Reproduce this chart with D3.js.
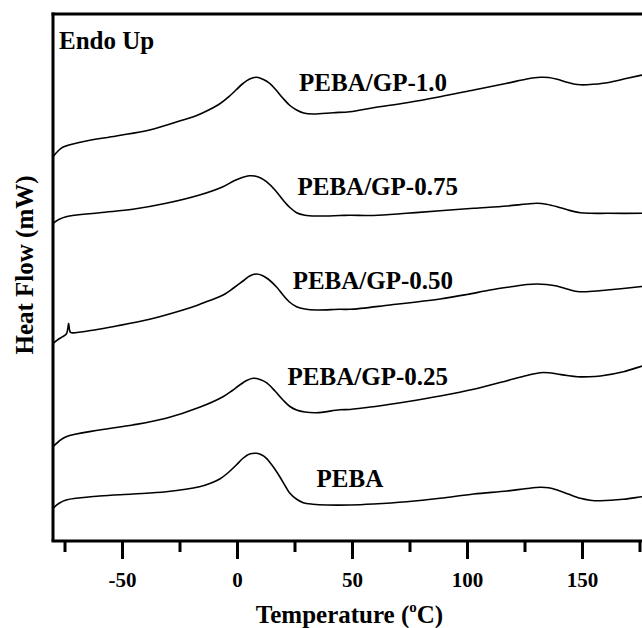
<!DOCTYPE html>
<html>
<head>
<meta charset="utf-8">
<script src="https://cdn.jsdelivr.net/npm/d3@7/dist/d3.min.js"></script>
<style>
  html, body { margin: 0; padding: 0; background: #fff; }
  svg { display: block; }
  text { font-family: "Liberation Serif", "Times New Roman", serif; font-weight: bold; fill: #000; }
</style>
</head>
<body>
<svg id="chart" width="642" height="628"></svg>
<script>
// DSC heating scans, [temperature (°C), heat flow (mW, stacked offsets)]
const gp100 = [
  [-80, 38.43], [-78, 38.95], [-75.8, 39.37], [-67.1, 39.93], [-52.5, 40.50], [-38, 41.10],
  [-23.5, 42.10], [-17.5, 42.55], [-11.9, 43.15], [-7, 43.80], [-3.2, 44.50], [2.6, 45.75],
  [5.5, 46.20], [8.5, 46.37], [11.5, 46.15], [14.2, 45.77], [17, 45.10], [20, 44.27],
  [23, 43.55], [25.9, 43.10], [29, 42.80], [33.1, 42.70], [41.8, 42.83], [49.1, 42.93],
  [59.3, 43.33], [73.8, 43.83], [88.3, 44.43], [102.9, 45.10], [117.4, 45.77], [126, 46.20],
  [131.9, 46.37], [135.5, 46.35], [139.2, 46.17], [143, 45.90], [146.4, 45.70], [149.5, 45.62],
  [152.2, 45.63], [161, 45.83], [169.7, 46.27], [176.2, 46.60], [182, 46.90]
];
const gp075 = [
  [-80, 31.77], [-77.5, 32.15], [-74.3, 32.43], [-59.8, 32.83], [-45.3, 33.17], [-30.8, 33.77],
  [-16.3, 34.60], [-6.1, 35.43], [-1, 36.05], [2.6, 36.37], [5.3, 36.52], [7.7, 36.50],
  [10.3, 36.30], [12.8, 35.93], [16.5, 35.10], [20, 34.10], [23, 33.35], [25.9, 32.83],
  [29.5, 32.58], [34.6, 32.50], [44.7, 32.55], [49.1, 32.58], [59.3, 32.55], [73.8, 32.77],
  [88.3, 33.03], [102.9, 33.27], [117.4, 33.50], [126, 33.70], [130.5, 33.77], [134.5, 33.68],
  [139.2, 33.43], [144, 33.10], [149.3, 32.83], [154, 32.77], [161, 32.77], [176.2, 32.77],
  [182, 32.80]
];
const gp050 = [
  [-80, 19.77], [-77.8, 20.15], [-75.8, 20.43], [-74.2, 20.70], [-73.6, 21.20], [-73.2, 21.77],
  [-72.8, 21.10], [-72.3, 20.85], [-67.1, 20.93], [-52.5, 21.50], [-38, 22.17], [-23.5, 23.10],
  [-17.5, 23.55], [-11.9, 24.05], [-6, 24.60], [-1.5, 25.30], [2.6, 26.00], [5.5, 26.50],
  [8.5, 26.70], [11, 26.55], [13.5, 26.20], [17.2, 25.40], [20, 24.60], [22.8, 23.90],
  [25.9, 23.43], [29.5, 23.20], [34.6, 23.10], [44.7, 23.17], [49.1, 23.17], [66.5, 23.60],
  [88.3, 24.20], [100, 24.65], [110, 25.10], [120, 25.45], [126, 25.65], [130.5, 25.70],
  [134.5, 25.65], [139, 25.50], [143.5, 25.20], [147.9, 24.95], [152, 24.93], [161, 25.10],
  [176, 25.45], [182, 25.60]
];
const gp025 = [
  [-80, 9.43], [-77.5, 9.95], [-74.3, 10.43], [-59.8, 11.10], [-45.3, 11.60], [-30.8, 12.27],
  [-16.3, 13.37], [-6.1, 14.43], [-2, 15.05], [1.2, 15.60], [4.2, 16.05], [7, 16.27],
  [10, 16.15], [12.8, 15.83], [16.5, 15.00], [20, 14.10], [23, 13.45], [25.9, 13.10],
  [29.5, 12.90], [34.6, 12.83], [44.7, 13.12], [49.1, 13.15], [59.3, 13.43], [73.8, 13.93],
  [88.3, 14.50], [102.9, 15.17], [117.4, 16.03], [126, 16.55], [131.9, 16.83], [135.5, 16.82],
  [139.2, 16.70], [143.5, 16.55], [148, 16.43], [153, 16.42], [158, 16.50], [168, 16.93],
  [176.2, 17.50], [182, 17.90]
];
const peba = [
  [-80, 3.27], [-77.5, 3.75], [-74.3, 4.10], [-59.8, 4.50], [-45.3, 4.70], [-30.8, 4.93],
  [-16.3, 5.43], [-11.5, 5.78], [-7.5, 6.20], [-4, 6.80], [-0.3, 7.60], [2.5, 8.25],
  [5.5, 8.70], [8.5, 8.77], [10.8, 8.60], [12.8, 8.27], [15.5, 7.50], [18.6, 6.43],
  [21, 5.50], [23, 4.77], [25.8, 4.20], [28.8, 3.83], [33, 3.68], [39, 3.60], [49.1, 3.60],
  [59.3, 3.70], [73.8, 3.93], [88.3, 4.27], [102.9, 4.70], [117.4, 5.00], [126, 5.25],
  [131.9, 5.37], [135.5, 5.32], [139.2, 5.10], [144, 4.70], [149.3, 4.27], [153.5, 4.08],
  [158, 4.03], [168, 4.17], [176.2, 4.43], [182, 4.60]
];

const seriesNames = ["PEBA/GP-1.0", "PEBA/GP-0.75", "PEBA/GP-0.50", "PEBA/GP-0.25", "PEBA"];
const seriesData = [gp100, gp075, gp050, gp025, peba];
// label anchor per curve: [temperature, heat flow] at the left end of the baseline
const labelAnchors = [[27, 45.05], [26.3, 34.6], [24.2, 25.2], [22, 15.6], [34.6, 5.4]];

const majorTicks = [-50, 0, 50, 100, 150];
const minorTicks = [-75, -25, 25, 75, 125, 175];

const svg = d3.select("#chart");
const plotLeft = 53, plotTop = 14, plotBottom = 541, svgWidth = 642;

const x = d3.scaleLinear().domain([-80, 200]).range([plotLeft, plotLeft + 280 * 2.3]);
const y = d3.scaleLinear().domain([0, 52.7]).range([plotBottom, plotTop]);

svg.append("defs").append("clipPath").attr("id", "plot-clip")
  .append("rect").attr("x", plotLeft).attr("y", plotTop)
  .attr("width", 700).attr("height", plotBottom - plotTop);

const line = d3.line()
  .x(d => x(d[0]))
  .y(d => y(d[1]))
  .curve(d3.curveCatmullRom.alpha(0.5));

svg.append("g").attr("clip-path", "url(#plot-clip)")
  .selectAll("path")
  .data(seriesData)
  .join("path")
  .attr("d", line)
  .attr("fill", "none")
  .attr("stroke", "#000")
  .attr("stroke-width", 1.6)
  .attr("stroke-linejoin", "round");

// frame: left and top edges
svg.append("line").attr("x1", plotLeft).attr("x2", plotLeft)
  .attr("y1", plotTop - 1.5).attr("y2", plotBottom)
  .attr("stroke", "#000").attr("stroke-width", 3);
svg.append("line").attr("x1", plotLeft - 1.5).attr("x2", svgWidth)
  .attr("y1", plotTop).attr("y2", plotTop)
  .attr("stroke", "#000").attr("stroke-width", 3);

// bottom axis with major and minor ticks
const minorAxis = d3.axisBottom(x).tickValues(minorTicks).tickSize(11).tickSizeOuter(0).tickFormat("");
const gMinor = svg.append("g").attr("transform", `translate(0,${plotBottom})`).call(minorAxis);
gMinor.select(".domain").remove();
gMinor.selectAll(".tick line").attr("stroke-width", 3);

const majorAxis = d3.axisBottom(x).tickValues(majorTicks).tickSize(18).tickSizeOuter(0);
const gMajor = svg.append("g").attr("transform", `translate(0,${plotBottom})`).call(majorAxis);
gMajor.select(".domain").attr("stroke-width", 3).attr("d", `M${plotLeft - 1.5},0H${svgWidth}`);
gMajor.selectAll(".tick line").attr("stroke-width", 3);
gMajor.selectAll(".tick text")
  .attr("y", 46).attr("dy", 0)
  .attr("font-size", 21)
  .attr("font-family", "Liberation Serif, Times New Roman, serif")
  .attr("font-weight", "bold")
  .text(d => d < 0 ? "-" + Math.abs(d) : d);

// curve labels
svg.append("g").selectAll("text")
  .data(seriesNames)
  .join("text")
  .attr("x", (d, i) => x(labelAnchors[i][0]))
  .attr("y", (d, i) => y(labelAnchors[i][1]))
  .attr("font-size", 25)
  .text(d => d);

svg.append("text").attr("x", 59).attr("y", 49).attr("font-size", 25).text("Endo Up");

// axis titles
const xt = svg.append("text").attr("x", 349.5).attr("y", 623)
  .attr("text-anchor", "middle").attr("font-size", 25);
xt.append("tspan").text("Temperature (");
xt.append("tspan").attr("font-size", 15).attr("dy", -11).text("o");
xt.append("tspan").attr("dy", 11).text("C)");

svg.append("text")
  .attr("transform", "translate(33,265) rotate(-90)")
  .attr("text-anchor", "middle")
  .attr("font-size", 25)
  .text("Heat Flow (mW)");
</script>
</body>
</html>
